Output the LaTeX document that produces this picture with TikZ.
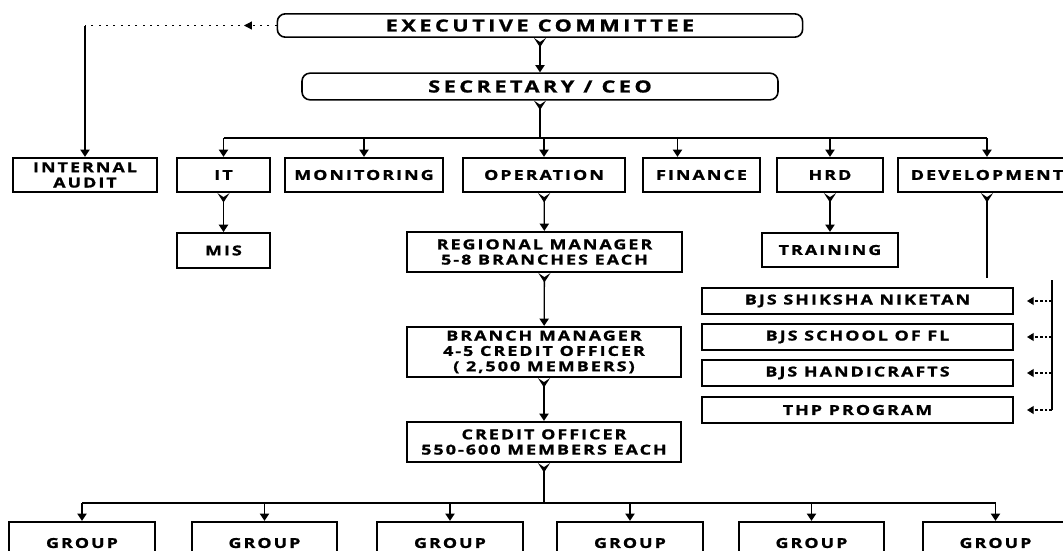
\documentclass[tikz,border=0pt]{standalone}
\usepackage{fontspec}
\newfontfamily\orgfont{Open Sans}[FakeStretch=1.3,LetterSpace=15,FakeBold=1.2]
\newfontfamily\headfont{Open Sans}[FakeStretch=1.3,LetterSpace=21,FakeBold=1.2]
\usetikzlibrary{arrows.meta,decorations.markings}
\tikzset{
    orgunit/.style={draw=black, line width=1.7pt, align=center, inner sep=1pt,
        font=\orgfont\bfseries\fontsize{10.3}{11.5}\selectfont},
    headunit/.style={orgunit, rounded corners=6pt, line width=1.2pt,
        font=\headfont\bfseries\fontsize{12.5}{14}\selectfont},
    projunit/.style={orgunit, line width=1.3pt, minimum width=233pt, minimum height=19.5pt,
        font=\orgfont\bfseries\fontsize{10.3}{11}\selectfont},
    groupunit/.style={orgunit, minimum width=109pt, minimum height=31.5pt},
    stem/.style={draw=black, line width=1pt,
        {Stealth[reversed,length=7pt,width=9pt,inset=3pt]}-{Triangle[length=5.5pt,width=7pt]}},
    stemnoarrow/.style={draw=black, line width=1pt, {Stealth[reversed,length=7pt,width=9pt,inset=3pt]}-},
    drop/.style={draw=black, line width=1pt, -{Triangle[length=5.5pt,width=7pt]}},
    bus/.style={draw=black, line width=0.9pt},
    backlink/.style={draw=black, line width=0.9pt, dash pattern=on 1.5pt off 4pt, postaction={decorate},
        decoration={markings,mark=at position .17 with {\arrow[draw=black]{Triangle[length=6pt,width=6pt]}}}},
    feed/.style={draw=black, line width=0.9pt, dash pattern=on 2pt off 1.5pt, shorten >=10pt,
        -{Triangle[length=5pt,width=6pt]}},
}

\begin{document}
\begin{tikzpicture}[x=0.75pt,y=-0.75pt]
    \useasboundingbox (0,0) rectangle (1063,550);
    \node[headunit, minimum width=394pt, minimum height=17.5pt] (exec) at (540,25.5) {EXECUTIVE COMMITTEE};
    \node[headunit, minimum width=357pt, minimum height=20pt] (ceo) at (540,86.5) {SECRETARY / CEO};

    \node[orgunit, minimum width=108pt, minimum height=25.5pt] (audit) at (85,175) {INTERNAL\\AUDIT};
    \node[orgunit, minimum width=70pt, minimum height=25.5pt] (it) at (223.5,175) {IT};
    \node[orgunit, minimum width=118.5pt, minimum height=25.5pt] (mon) at (364,175) {MONITORING};
    \node[orgunit, minimum width=121.5pt, minimum height=25.5pt] (op) at (544,175) {OPERATION};
    \node[orgunit, minimum width=88pt, minimum height=25.5pt] (fin) at (701.5,175) {FINANCE};
    \node[orgunit, minimum width=79.5pt, minimum height=25.5pt] (hrd) at (830,175) {HRD};
    \node[orgunit, minimum width=133.5pt, minimum height=25.5pt] (dev) at (987,175) {DEVELOPMENT};

    \node[orgunit, minimum width=70pt, minimum height=26pt] (mis) at (223.5,250.5) {MIS};
    \node[orgunit, minimum width=206pt, minimum height=30pt] (reg) at (544.5,252) {REGIONAL MANAGER\\5-8 BRANCHES EACH};
    \node[orgunit, minimum width=102pt, minimum height=25.5pt] (train) at (830,250) {TRAINING};
    \node[orgunit, minimum width=205.5pt, minimum height=37.5pt] (branch) at (544,352) {BRANCH MANAGER\\4-5 CREDIT OFFICER\\( 2,500 MEMBERS)};
    \node[orgunit, minimum width=206pt, minimum height=30pt] (credit) at (544,442) {CREDIT OFFICER\\550-600 MEMBERS EACH};

    \node[projunit] (bjs1) at (857.5,301) {BJS SHIKSHA NIKETAN};
    \node[projunit] (bjs2) at (857.5,337) {BJS SCHOOL OF FL};
    \node[projunit] (bjs3) at (857.5,373) {BJS HANDICRAFTS};
    \node[projunit] (bjs4) at (857.5,410) {THP PROGRAM};

    \node[groupunit] (g1) at (82,543) {GROUP};
    \node[groupunit] (g2) at (264.5,543) {GROUP};
    \node[groupunit] (g3) at (450,543) {GROUP};
    \node[groupunit] (g4) at (630,543) {GROUP};
    \node[groupunit] (g5) at (811.5,543) {GROUP};
    \node[groupunit] (g6) at (995.5,543) {GROUP};

    \coordinate (bus) at (546,138);
    \coordinate (gbus) at (546,503);
    \coordinate (corner) at (audit.north |- exec.west);
    \coordinate (finin) at ([xshift=-18pt]fin.north);
    \coordinate (devend) at (dev.south |- 0,278);
    \coordinate (rtop) at (1052,280);
    \coordinate (rbot) at (1052,410);

    \draw[stem] (exec) -- (ceo);
    \draw[stemnoarrow] (ceo) -- (ceo |- bus);
    \draw[bus] (it |- bus) -- (dev |- bus);
    \foreach \n in {it,mon,op,hrd,dev}
        \draw[drop] (\n |- bus) -- (\n);
    \draw[drop] (finin |- bus) -- (finin);
    \draw[backlink] (exec) -- (corner);
    \draw[drop] (corner) -- (audit);

    \draw[stem] (it) -- (mis);
    \draw[stem] (op) -- (reg);
    \draw[stem] (hrd) -- (train);
    \draw[stem] (reg) -- (branch);
    \draw[stem] (branch) -- (credit);
    \draw[stemnoarrow] (dev) -- (devend);

    \draw[bus] (rtop) -- (rbot);
    \foreach \n in {1,...,4}
        \draw[feed] (bjs\n -| rtop) -- (bjs\n);

    \draw[stemnoarrow] (credit) -- (credit |- gbus);
    \draw[bus] (g1 |- gbus) -- (g6 |- gbus);
    \foreach \n in {1,...,6}
        \draw[drop] (g\n |- gbus) -- (g\n);
\end{tikzpicture}
\end{document}
